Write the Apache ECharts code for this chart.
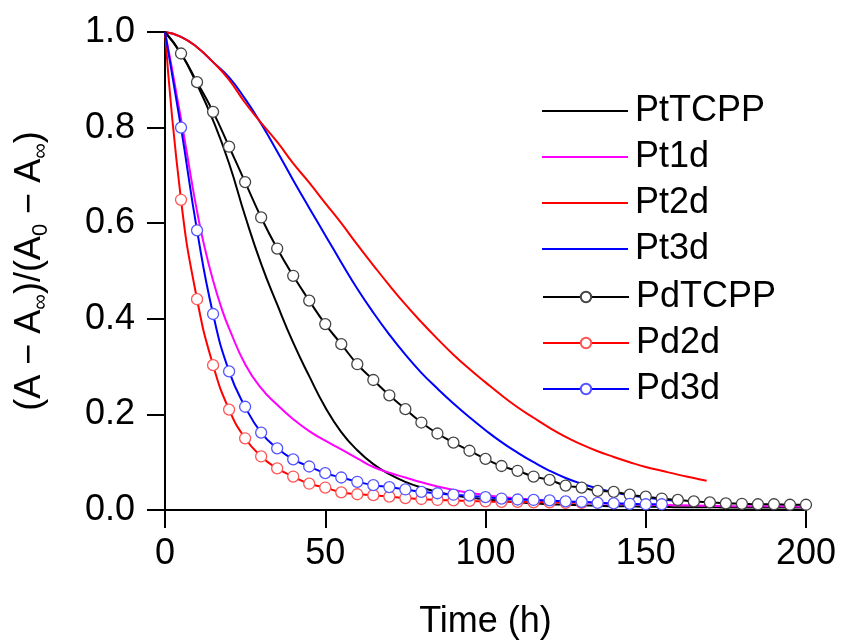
<!DOCTYPE html>
<html>
<head>
<meta charset="utf-8">
<script src="https://cdn.jsdelivr.net/npm/echarts@6/dist/echarts.min.js"></script>
<style>
  html, body { margin: 0; padding: 0; background: #fff; }
  #chart { width: 841px; height: 640px; }
</style>
</head>
<body>
<div id="chart"></div>
<script>
// time axis (h), one point every 5 h
const time = [0, 5, 10, 15, 20, 25, 30, 35, 40, 45, 50, 55, 60, 65, 70, 75, 80, 85, 90, 95, 100,
  105, 110, 115, 120, 125, 130, 135, 140, 145, 150, 155, 160, 165, 170, 175, 180, 185, 190, 195, 200];
// Pt1d drops fast, so it has a finer start
const timePt1d = [0, 2, 4, 6, 8, 10, 12, 15, 18, 20, 25, 30, 35, 40, 45, 50, 55, 60, 65, 70, 75, 80,
  85, 90, 95, 100, 110, 120, 130, 140, 150, 160, 170, 180, 190, 200];
const timePt2d = [0, 5, 10, 15, 20, 25, 30, 35, 40, 45, 50, 55, 60, 65, 70, 75, 80, 85, 90, 95, 100,
  105, 110, 115, 120, 125, 130, 135, 140, 145, 150, 155, 160, 165, 169];

const ptTCPP = [1.0, 0.955, 0.89, 0.815, 0.725, 0.615, 0.515, 0.43, 0.35, 0.28, 0.215, 0.163, 0.125, 0.096,
  0.075, 0.059, 0.047, 0.038, 0.031, 0.026, 0.022, 0.019, 0.016, 0.014, 0.012, 0.011, 0.010, 0.009,
  0.008, 0.008, 0.007, 0.007, 0.006, 0.006, 0.006, 0.005, 0.005, 0.005, 0.005, 0.005, 0.005];
const pt1d = [1.0, 0.93, 0.855, 0.78, 0.70, 0.625, 0.56, 0.48, 0.415, 0.38, 0.305, 0.255, 0.22, 0.19,
  0.165, 0.145, 0.127, 0.108, 0.09, 0.078, 0.068, 0.058, 0.049, 0.042, 0.036, 0.031, 0.024, 0.019,
  0.016, 0.013, 0.011, 0.010, 0.009, 0.008, 0.008, 0.007];
const pt2d = [1.0, 0.99, 0.968, 0.937, 0.90, 0.852, 0.81, 0.77, 0.725, 0.685, 0.642, 0.60, 0.555, 0.512,
  0.47, 0.43, 0.393, 0.358, 0.325, 0.295, 0.267, 0.24, 0.215, 0.193, 0.172, 0.153, 0.137, 0.123, 0.111,
  0.1, 0.09, 0.082, 0.074, 0.067, 0.061];
const pt3d = [1.0, 0.99, 0.968, 0.937, 0.905, 0.86, 0.808, 0.75, 0.69, 0.632, 0.575, 0.518, 0.463, 0.413,
  0.367, 0.325, 0.287, 0.254, 0.223, 0.194, 0.167, 0.142, 0.12, 0.1, 0.082, 0.067, 0.055, 0.045,
  0.037, 0.031, 0.026, 0.022, 0.019];
const pdTCPP = [1.0, 0.955, 0.895, 0.833, 0.76, 0.686, 0.612, 0.547, 0.49, 0.438, 0.389, 0.347, 0.305,
  0.272, 0.24, 0.211, 0.183, 0.16, 0.141, 0.124, 0.107, 0.092, 0.082, 0.07, 0.063, 0.051, 0.047, 0.04,
  0.038, 0.032, 0.028, 0.024, 0.021, 0.018, 0.016, 0.014, 0.013, 0.012, 0.012, 0.011, 0.011];
const pd2d = [1.0, 0.649, 0.441, 0.303, 0.21, 0.15, 0.112, 0.087, 0.07, 0.055, 0.047, 0.037, 0.033,
  0.031, 0.028, 0.025, 0.023, 0.021, 0.02, 0.019, 0.018, 0.017, 0.017, 0.016, 0.016, 0.015, 0.015];
const pd3d = [1.0, 0.80, 0.585, 0.41, 0.29, 0.216, 0.162, 0.129, 0.106, 0.091, 0.077, 0.068, 0.059,
  0.052, 0.048, 0.043, 0.038, 0.035, 0.032, 0.03, 0.027, 0.024, 0.022, 0.021, 0.02, 0.018, 0.017,
  0.015, 0.014, 0.013, 0.012, 0.012];

const xTicks = [0, 50, 100, 150, 200];
const yTicks = [0, 0.2, 0.4, 0.6, 0.8, 1.0];

const FONT = '"Liberation Sans", Arial, sans-serif';
const FS = 36;

// [x, y] pairs
const pairs = (xs, ys) => ys.map((v, i) => [xs[i], v]);
// marker series: no circle on the t = 0 point
const markerPairs = (xs, ys) => ys.map((v, i) => i === 0 ? { value: [xs[i], v], symbol: 'none' } : [xs[i], v]);

const lineSeries = (name, color, data) => ({
  name: name,
  type: 'line',
  data: data,
  symbol: 'none',
  smooth: 0.5,
  color: color,
  lineStyle: { color: color, width: 2 },
});

const markerSeries = (name, color, edge, data) => ({
  name: name,
  type: 'line',
  data: data,
  symbol: 'circle',
  symbolSize: 11,
  smooth: 0.5,
  lineStyle: { color: color, width: 2 },
  itemStyle: { color: '#fff', borderColor: edge, borderWidth: 1.3 },
});

const chart = echarts.init(document.getElementById('chart'));

const legendText = { fontSize: FS, lineHeight: 36, color: '#000', fontFamily: FONT, padding: [0, 0, 0, 2] };

const option = {
  animation: false,
  backgroundColor: '#fff',
  grid: { left: 165, right: 35, top: 32, bottom: 130, outerBoundsMode: 'none', containLabel: false },
  legend: [
    {
      data: ['PtTCPP', 'Pt1d', 'Pt2d', 'Pt3d'],
      orient: 'vertical', left: 537, top: 88,
      icon: 'rect', itemWidth: 86, itemHeight: 2, itemGap: 10,
      selectedMode: false, textStyle: legendText,
    },
    {
      data: ['PdTCPP', 'Pd2d', 'Pd3d'],
      orient: 'vertical', left: 537, top: 274,
      itemWidth: 86, itemHeight: 13, itemGap: 10,
      selectedMode: false, textStyle: legendText,
    },
  ],
  xAxis: {
    type: 'value',
    min: 0, max: 200, interval: 50,
    name: 'Time (h)',
    nameLocation: 'middle',
    nameGap: 94,
    nameTextStyle: { fontSize: FS, color: '#000', fontFamily: FONT },
    axisLine: { lineStyle: { color: '#000', width: 2 } },
    axisTick: { inside: false, length: 18, lineStyle: { color: '#000', width: 2 } },
    axisLabel: {
      fontSize: FS, color: '#000', fontFamily: FONT, margin: 26,
      formatter: (v) => xTicks.includes(v) ? String(v) : '',
    },
    splitLine: { show: false },
  },
  yAxis: {
    type: 'value',
    min: 0, max: 1, interval: 0.2,
    name: '(A − A{s|∞})/(A{s|0} − A{s|∞})',
    nameLocation: 'middle',
    nameRotate: 90,
    nameGap: 113,
    nameTextStyle: {
      fontSize: FS, color: '#000', fontFamily: FONT, lineHeight: 44,
      rich: {
        s: { fontSize: 22, fontFamily: FONT, color: '#000', lineHeight: 20, verticalAlign: 'bottom' },
      },
    },
    axisLine: { onZero: false, lineStyle: { color: '#000', width: 2 } },
    axisTick: { inside: false, length: 18, lineStyle: { color: '#000', width: 2 } },
    axisLabel: {
      fontSize: FS, color: '#000', fontFamily: FONT, margin: 30,
      formatter: (v) => yTicks.some(t => Math.abs(t - v) < 1e-9) ? v.toFixed(1) : '',
    },
    splitLine: { show: false },
  },
  series: [
    lineSeries('PtTCPP', '#000000', pairs(time, ptTCPP)),
    lineSeries('Pt1d', '#ff00ff', pairs(timePt1d, pt1d)),
    lineSeries('Pt3d', '#0000ff', pairs(time, pt3d)),
    lineSeries('Pt2d', '#ff0000', pairs(timePt2d, pt2d)),
    markerSeries('PdTCPP', '#000000', '#444444', markerPairs(time, pdTCPP)),
    markerSeries('Pd2d', '#ff0000', '#ff5555', markerPairs(time, pd2d)),
    markerSeries('Pd3d', '#0000ff', '#5555ff', markerPairs(time, pd3d)),
  ],
};

chart.setOption(option);
</script>
</body>
</html>
